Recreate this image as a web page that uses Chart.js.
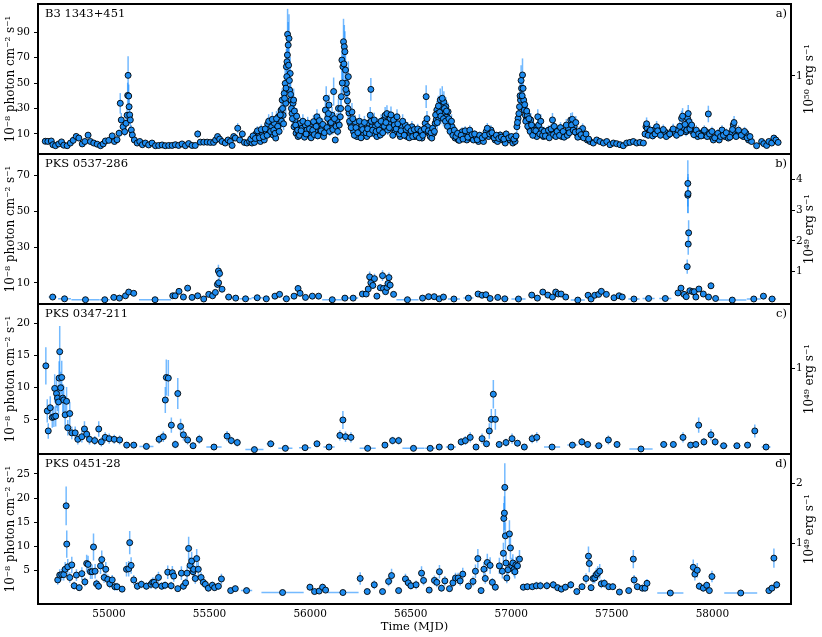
<!DOCTYPE html>
<html>
<head>
<meta charset="utf-8">
<script src="https://cdn.jsdelivr.net/npm/chart.js@4.4.0/dist/chart.umd.min.js"></script>
<style>
  body { margin: 0; background: #fff; }
  #wrap { position: relative; width: 822px; height: 637px; }
  #wrap canvas { position: absolute; left: 0; }
</style>
</head>
<body>
<div id="wrap">
  <canvas id="pa" width="822" height="158" style="top:0px"></canvas>
  <canvas id="pb" width="822" height="158" style="top:150px"></canvas>
  <canvas id="pc" width="822" height="158" style="top:300px"></canvas>
  <canvas id="pd" width="822" height="187" style="top:450px"></canvas>
</div>
<script>
// time axis (MJD)
const xTicks = [55000, 55500, 56000, 56500, 57000, 57500, 58000];

// B3 1343+451: [MJD, flux, error]
const panelA = [
  [54683,4.3,1.5],[54696,4.2,1.5],[54713,4.5,1.5],[54721,1.6,1.2],[54734,0.8,1.0],[54750,2.2,1.3],
  [54764,3.8,1.5],[54775,1.2,1.0],[54792,0.8,1.0],[54808,2.9,1.4],[54822,5.0,1.8],[54837,8.1,2.2],
  [54850,6.8,2.0],[54867,2.2,1.3],[54880,4.1,1.5],[54896,9.1,2.5],[54908,4.1,1.5],[54924,2.9,1.4],
  [54941,2.0,1.2],[54958,0.8,1.0],[54971,2.2,1.3],[54982,4.5,1.6],[54999,5.0,1.8],[55016,8.5,2.4],
  [55027,4.1,1.6],[55040,5.5,1.8],[55050,10.6,3.0],[55056,34.1,8.0],[55061,21.0,5.5],[55070,15.7,4.5],
  [55078,11.8,3.5],[55085,18.4,5.0],[55090,24.7,6.5],[55093,40.3,10],[55095,56.0,15],[55098,39.8,9],
  [55100,31.4,8],[55103,25.0,6.5],[55106,21.0,5.5],[55111,13.1,3.8],[55116,9.2,2.8],[55126,5.3,2.0],
  [55140,2.9,1.4],[55153,4.1,1.5],[55166,1.6,1.2],[55181,2.9,1.4],[55197,1.4,1.2],[55214,2.9,1.4],
  [55231,0.8,1.0],[55247,1.0,1.0],[55264,1.4,1.1],[55280,0.8,1.0],[55297,1.0,1.0],[55314,1.0,1.0],
  [55330,1.6,1.1],[55346,1.0,1.0],[55363,2.2,1.3],[55380,0.8,1.0],[55396,2.5,1.3],[55413,1.0,1.0],
  [55429,1.0,1.0],[55441,10.0,3.0],[55454,3.6,1.5],[55471,3.6,1.5],[55488,3.6,1.5],[55504,3.4,1.5],
  [55520,3.4,1.5],[55530,5.3,1.8],[55540,8.0,2.3],[55550,6.0,2.0],[55562,4.1,1.6],[55578,2.9,1.4],
  [55592,5.3,1.8],[55603,4.1,1.6],[55612,1.0,1.0],[55620,8.0,2.4],[55628,6.8,2.2],[55640,14.5,4.0],
  [55650,5.3,1.8],[55663,10.0,3.0],[55673,3.4,1.5],[55686,2.9,1.4],[55699,4.1,1.6],[55711,2.9,1.4],
  [55723,3.4,1.5],[55733,10.6,3.2],[55743,8.0,2.6],[55753,4.1,1.6],[55762,9.2,3.0],[55772,5.3,2.0],
  [55782,11.8,3.5],[55789,17.8,5.0],[55799,10.6,3.2],[55809,15.7,4.5],[55816,9.2,3.0],[55822,18.4,5.0],
  [55829,6.8,2.4],[55836,14.5,4.2],[55842,23.5,6.0],[55849,18.4,5.0],[55856,28.8,7.0],[55861,36.6,9],
  [55866,24.7,6.5],[55871,41.8,10],[55876,49.7,12],[55879,34.1,8.5],[55882,62.8,14],[55885,66.7,15],
  [55888,88.2,20],[55891,79.8,18],[55895,85.0,19],[55898,44.5,11],[55901,57.5,13],[55905,36.6,9],
  [55910,26.1,7],[55915,34.1,8.5],[55918,36.6,9],[55920,15.7,4.5],[55925,21.0,5.5],[55930,10.6,3.2],
  [55935,15.7,4.5],[55940,8.0,2.6],[55943,11.8,3.5],[55951,18.4,5.0],[55960,14.5,4.2],[55968,10.6,3.2],
  [55976,17.1,4.8],[55984,13.1,3.8],[55993,9.2,3.0],[56001,15.7,4.5],[56009,11.8,3.5],[56017,19.7,5.2],
  [56026,11.8,3.5],[56034,23.5,6.0],[56042,17.1,4.8],[56051,10.6,3.2],[56059,14.5,4.2],[56067,8.0,2.6],
  [56076,28.8,7.5],[56080,38.0,9.5],[56087,22.2,6.0],[56094,32.7,8.0],[56100,18.4,5.0],[56109,24.7,6.5],
  [56117,43.3,11],[56125,5.3,2.0],[56133,21.0,5.5],[56141,30.1,7.5],[56150,23.5,6.0],[56155,39.3,10],
  [56158,68.0,15],[56163,62.8,14],[56166,82.4,18],[56170,78.5,17],[56173,74.6,16],[56176,60.2,13],
  [56180,49.8,12],[56183,42.4,10],[56186,36.0,9],[56190,55.0,12],[56193,26.5,7],[56200,18.4,5],
  [56208,27.3,7],[56216,11.8,3.5],[56224,19.7,5.2],[56233,8.0,2.6],[56241,14.5,4.2],[56249,10.6,3.2],
  [56257,17.1,4.8],[56265,9.2,3.0],[56274,13.1,3.8],[56282,8.0,2.6],[56290,18.4,5.0],[56299,24.7,6.5],
  [56302,45.0,9],[56307,15.7,4.5],[56315,10.6,3.2],[56324,15.7,4.5],[56332,8.0,2.6],[56340,11.8,3.5],
  [56349,9.2,3.0],[56357,15.7,4.5],[56365,21.0,5.5],[56373,24.7,6.5],[56382,26.0,6.5],[56390,18.4,5.0],
  [56398,22.2,6.0],[56407,14.5,4.2],[56415,21.0,5.5],[56423,11.8,3.5],[56432,23.5,6.0],[56440,13.1,3.8],
  [56448,8.0,2.6],[56456,15.7,4.5],[56464,10.6,3.2],[56473,17.1,4.8],[56481,8.0,2.6],[56489,11.8,3.5],
  [56498,9.2,3.0],[56506,15.7,4.5],[56514,10.6,3.2],[56522,8.0,2.6],[56531,11.8,3.5],[56539,8.0,2.6],
  [56547,10.6,3.2],[56556,6.8,2.4],[56564,11.8,3.5],[56572,18.4,5.0],[56577,39.3,9],[56584,15.7,4.5],
  [56591,10.6,3.2],[56597,8.0,2.6],[56605,6.8,2.4],[56614,10.6,3.2],[56622,18.4,5.0],[56627,21.0,5.5],
  [56630,28.8,7.0],[56635,26.2,6.5],[56640,22.2,6.0],[56647,36.7,9],[56653,28.8,7.0],[56660,32.7,8.0],
  [56665,35.0,8.5],[56670,26.2,6.5],[56675,31.4,7.5],[56680,23.5,6.0],[56686,27.5,7.0],[56693,18.4,5.0],
  [56700,13.1,3.8],[56706,15.7,4.5],[56713,11.8,3.5],[56721,6.8,2.4],[56729,9.2,3.0],[56737,5.3,2.0],
  [56746,6.8,2.4],[56756,11.8,3.5],[56766,8.0,2.6],[56779,5.3,2.0],[56789,10.6,3.2],[56799,6.8,2.4],
  [56812,5.3,2.0],[56826,7.5,2.5],[56837,4.1,1.6],[56849,6.8,2.4],[56862,4.1,1.6],[56875,11.8,3.5],
  [56887,8.0,2.6],[56899,13.1,3.8],[56909,8.0,2.6],[56920,5.3,2.0],[56932,4.1,1.6],[56945,9.2,3.0],
  [56957,5.3,2.0],[56970,2.9,1.4],[56981,8.0,2.6],[56994,5.3,2.0],[57008,2.9,1.4],[57019,4.1,1.6],
  [57028,15.7,4.5],[57034,22.2,6.0],[57041,31.4,7.5],[57046,36.6,9],[57051,45.8,11],[57056,56.3,13],
  [57059,45.8,11],[57062,36.6,9],[57065,28.8,7.0],[57070,24.7,6.5],[57075,21.0,5.5],[57080,24.7,6.5],
  [57085,18.4,5.0],[57090,14.5,4.2],[57097,21.0,5.5],[57104,11.8,3.5],[57110,15.7,4.5],[57118,10.6,3.2],
  [57127,8.0,2.6],[57132,23.5,6.0],[57152,13.1,3.8],[57160,8.0,2.6],[57177,11.8,3.5],[57193,9.2,3.0],
  [57205,21.0,5.5],[57218,10.6,3.2],[57234,13.1,3.8],[57251,8.0,2.6],[57268,10.6,3.2],[57284,14.5,4.2],
  [57296,21.0,5.5],[57304,21.5,5.5],[57313,15.7,4.5],[57326,10.6,3.2],[57342,8.0,2.6],[57355,14.3,4.0],
  [57367,9.2,3.0],[57378,5.3,2.0],[57392,4.1,1.6],[57408,2.9,1.4],[57425,5.3,2.0],[57441,4.1,1.6],
  [57458,2.9,1.4],[57475,4.1,1.6],[57491,1.6,1.2],[57508,2.9,1.4],[57524,2.4,1.3],[57541,1.6,1.2],
  [57557,0.8,1.0],[57574,2.9,1.4],[57590,3.4,1.5],[57607,4.1,1.6],[57624,2.9,1.4],[57640,3.4,1.5],
  [57657,2.9,1.4],[57670,15.7,4.5],[57676,14.5,4.2],[57686,11.8,3.5],[57698,10.6,3.2],[57709,13.1,3.8],
  [57723,15.7,4.5],[57736,11.8,3.5],[57749,10.6,3.2],[57764,11.8,3.5],[57780,9.2,3.0],[57797,11.8,3.5],
  [57814,10.6,3.2],[57830,13.1,3.8],[57847,22.3,6.0],[57859,14.5,4.2],[57869,11.8,3.5],[57877,22.3,6.0],
  [57884,19.7,5.2],[57892,15.7,4.5],[57902,11.8,3.5],[57914,10.6,3.2],[57927,8.0,2.6],[57938,10.6,3.2],
  [57955,9.2,3.0],[57968,11.8,3.5],[57980,25.7,6.5],[57992,8.0,2.6],[58005,5.3,2.0],[58021,8.0,2.6],
  [58034,5.3,2.0],[58048,13.1,3.8],[58062,8.0,2.6],[58079,6.8,2.4],[58096,10.6,3.2],[58104,17.1,4.8],
  [58112,11.8,3.5],[58124,9.2,3.0],[58137,10.6,3.2],[58154,8.0,2.6],[58167,10.6,3.2],[58180,5.3,2.0],
  [58195,4.1,1.6],[58220,0.8,1.0],[58245,4.1,1.6],[58256,2.4,1.3],[58270,1.0,1.0],[58281,4.1,1.6],
  [58295,2.9,1.4],[58306,6.8,2.4],[58316,5.3,2.0],[58327,3.4,1.5],
  // extra points read from the dense active stretches
  [55705,6.0,2.0],[55716,8.5,2.6],[55728,6.5,2.2],[55738,12.5,3.6],[55748,7.0,2.3],[55757,13.5,3.9],
  [55767,8.0,2.6],[55777,14.0,4.0],[55786,9.0,2.8],[55794,20.0,5.5],[55804,12.0,3.6],[55812,21.5,5.8],
  [55819,13.0,3.8],[55826,10.5,3.2],[55833,22.0,6.0],[55839,16.0,4.6],[55846,12.0,3.6],[55852,25.0,6.5],
  [55858,20.0,5.5],[55863,30.0,7.5],[55868,18.0,5.0],[55873,38.0,9.5],[55880,46.0,11],[55884,55.0,13],
  [55887,72.0,16],[55893,64.0,15],[55897,52.0,12],[55903,41.0,10],[55907,30.0,7.5],[55912,22.0,6.0],
  [55922,28.0,7.2],[55928,17.0,4.8],[55933,24.0,6.3],[55938,13.0,3.8],[55947,9.0,2.8],[55955,12.5,3.6],
  [55964,20.0,5.5],[55972,7.5,2.4],[55980,10.0,3.0],[55988,18.5,5.0],[55997,14.0,4.0],[56005,7.0,2.3],
  [56013,13.0,3.8],[56021,9.5,3.0],[56030,16.0,4.6],[56038,8.5,2.7],[56046,20.5,5.6],[56055,12.5,3.6],
  [56063,17.5,4.9],[56071,11.0,3.3],[56084,15.0,4.3],[56091,26.0,6.8],[56097,12.0,3.6],[56104,19.0,5.2],
  [56113,13.5,3.9],[56121,22.0,6.0],[56129,16.0,4.6],[56137,12.0,3.6],[56145,17.0,4.8],[56152,30.0,7.5],
  [56160,50.0,12],[56168,65.0,15],[56178,45.0,11],[56188,30.0,7.5],[56196,20.0,5.5],[56204,15.0,4.3],
  [56212,22.0,6.0],[56220,9.0,2.8],[56228,15.0,4.3],[56237,11.0,3.3],[56245,20.0,5.5],[56253,7.0,2.3],
  [56261,13.5,3.9],[56270,19.0,5.2],[56278,11.0,3.3],[56286,14.0,4.0],[56295,10.0,3.0],[56304,20.0,5.5],
  [56311,13.0,3.8],[56319,21.0,5.7],[56328,12.0,3.6],[56336,17.5,4.9],[56344,13.0,3.8],[56353,20.0,5.5],
  [56361,11.0,3.3],[56369,16.0,4.6],[56377,19.0,5.2],[56386,13.0,3.8],[56394,15.0,4.3],[56402,25.0,6.5],
  [56411,9.0,2.8],[56419,17.0,4.8],[56428,14.0,4.0],[56436,18.0,5.0],[56444,10.0,3.0],[56452,12.5,3.6],
  [56460,20.0,5.5],[56468,9.0,2.8],[56477,13.5,3.9],[56485,15.0,4.3],[56493,7.0,2.3],[56502,12.5,3.6],
  [56510,8.0,2.6],[56518,13.5,3.9],[56527,9.0,2.8],[56535,14.0,4.0],[56543,7.0,2.3],[56551,12.5,3.6],
  [56560,9.0,2.8],[56568,14.0,4.0],[56581,22.0,6.0],[56588,12.5,3.6],[56601,11.0,3.3],[56609,14.5,4.1],
  [56618,12.0,3.6],[56624,25.0,6.5],[56632,19.0,5.2],[56638,32.0,8.0],[56644,27.0,7.0],[56650,24.0,6.3],
  [56657,38.0,9.5],[56663,22.0,6.0],[56668,30.0,7.5],[56673,20.0,5.5],[56678,28.0,7.2],[56683,16.0,4.6],
  [56690,22.0,6.0],[56696,12.0,3.6],[56703,20.0,5.5],[56710,9.0,2.8],[56717,13.0,3.8],[56725,8.0,2.6],
  [56733,10.5,3.2],[56742,5.0,1.9],[56751,9.0,2.8],[56760,6.0,2.0],[56771,12.5,3.6],[56784,7.5,2.4],
  [56794,13.0,3.8],[56805,9.5,3.0],[56818,10.0,3.0],[56831,5.5,2.0],[56843,9.0,2.8],[56856,7.0,2.3],
  [56869,9.0,2.8],[56881,14.5,4.1],[56893,10.0,3.0],[56904,11.0,3.3],[56915,7.0,2.3],[56926,9.0,2.8],
  [56938,6.5,2.2],[56951,7.5,2.4],[56963,6.0,2.0],[56975,10.0,3.0],[56988,7.0,2.3],[57001,8.0,2.6],
  [57013,6.0,2.0],[57024,8.5,2.7],[57031,19.0,5.2],[57038,26.0,6.8],[57044,40.0,10],[57049,52.0,12],
  [57054,40.0,10],[57067,33.0,8.2],[57072,20.0,5.5],[57077,28.0,7.2],[57082,16.0,4.6],[57088,22.0,6.0],
  [57094,12.0,3.6],[57101,17.0,4.8],[57107,9.0,2.8],[57114,13.0,3.8],[57122,12.5,3.6],[57136,17.0,4.8],
  [57142,10.0,3.0],[57147,20.0,5.5],[57156,9.0,2.8],[57164,12.0,3.6],[57170,8.5,2.7],[57185,13.0,3.8],
  [57189,7.0,2.3],[57198,14.0,4.0],[57210,9.5,3.0],[57214,16.0,4.6],[57222,8.0,2.6],[57228,12.0,3.6],
  [57240,9.0,2.8],[57245,15.0,4.3],[57258,12.0,3.6],[57263,7.5,2.4],[57274,17.0,4.8],[57279,9.0,2.8],
  [57289,11.0,3.3],[57300,17.0,4.8],[57308,13.0,3.8],[57318,11.5,3.4],[57321,19.0,5.2],[57331,7.5,2.4],
  [57337,12.0,3.6],[57347,9.5,3.0],[57360,7.0,2.3],[57372,10.0,3.0],[57385,6.0,2.0],
  [57665,10.0,3.0],[57673,18.0,5.0],[57681,9.0,2.8],[57692,13.0,3.8],[57703,8.5,2.7],[57715,10.0,3.0],
  [57728,12.5,3.6],[57742,9.0,2.8],[57756,13.5,3.9],[57771,8.0,2.6],[57788,10.0,3.0],[57805,14.0,4.0],
  [57822,9.0,2.8],[57838,16.0,4.6],[57843,11.0,3.3],[57852,24.0,6.3],[57864,17.5,4.9],[57873,13.0,3.8],
  [57880,26.0,6.8],[57888,14.0,4.0],[57897,17.0,4.8],[57908,9.5,3.0],[57920,13.0,3.8],[57932,10.0,3.0],
  [57944,8.5,2.7],[57960,13.0,3.8],[57974,8.0,2.6],[57986,10.0,3.0],[57998,12.0,3.6],[58012,7.0,2.3],
  [58027,10.5,3.2],[58041,8.0,2.6],[58055,9.0,2.8],[58069,11.0,3.3],[58087,7.5,2.4],[58100,13.5,3.9],
  [58108,19.0,5.2],[58118,8.0,2.6],[58130,13.0,3.8],[58144,9.0,2.8],[58160,12.0,3.6],[58173,7.0,2.3],
  [58187,8.0,2.6]
];

// PKS 0537-286: [MJD, flux, error, bin half-width in days]
const panelB = [
  [54720,2.0,0.6,20],[54779,1.0,0.4,32],[54883,0.5,0.3,70],[54979,0.5,0.3,25],[55024,1.8,0.6,18],
  [55052,1.4,0.5,12],[55082,2.7,0.8,14],[55098,4.8,1.2,10],[55123,4.1,1.0,15],[55229,0.5,0.3,80],
  [55317,2.7,0.8,10],[55329,2.7,0.8,8],[55348,5.2,1.2,10],[55370,2.0,0.6,12],[55391,7.0,1.5,10],
  [55413,1.8,0.6,12],[55441,2.7,0.8,14],[55471,0.9,0.4,14],[55496,3.5,0.9,12],[55515,2.7,0.8,8],
  [55529,4.6,1.2,6],[55539,9.1,2.0,4],[55544,16.6,3.5,3],[55545,10.0,2.5,2],[55550,15.2,3.0,3],
  [55562,6.4,1.5,8],[55595,2.0,0.6,18],[55630,1.4,0.5,16],[55679,1.0,0.4,30],[55737,1.6,0.5,28],
  [55782,1.0,0.4,18],[55825,2.5,0.7,14],[55848,3.5,0.9,10],[55882,1.0,0.4,20],[55920,2.5,0.7,14],
  [55940,6.8,2.0,6],[55950,4.1,1.2,6],[55977,1.8,0.6,14],[56011,2.5,0.7,14],[56042,2.5,0.7,14],
  [56110,0.5,0.3,50],[56173,1.4,0.5,18],[56214,1.4,0.5,25],[56260,3.7,1.0,10],[56279,3.7,1.0,6],
  [56289,6.5,1.5,4],[56296,13.3,3.0,3],[56302,10.0,2.5,3],[56312,8.5,2.0,4],[56320,12.3,2.8,3],
  [56332,2.5,0.8,6],[56349,7.2,1.8,6],[56360,14.0,3.0,4],[56365,6.8,1.8,3],[56375,5.0,1.4,4],
  [56382,7.4,1.8,3],[56387,9.6,2.2,3],[56392,12.9,2.8,3],[56398,8.7,2.0,4],[56415,3.5,1.0,10],
  [56484,0.5,0.3,55],[56559,1.4,0.5,16],[56589,2.2,0.6,12],[56617,2.2,0.6,12],[56642,1.0,0.4,10],
  [56663,2.0,0.6,10],[56715,0.9,0.4,30],[56787,1.4,0.5,25],[56835,3.7,1.0,12],[56855,3.0,0.9,8],
  [56874,3.3,0.9,8],[56895,1.2,0.4,10],[56933,1.8,0.6,15],[56968,1.0,0.4,18],[57036,0.9,0.4,35],
  [57102,3.1,0.9,15],[57130,1.4,0.5,12],[57157,4.8,1.2,10],[57182,3.1,0.9,10],[57205,2.0,0.6,8],
  [57221,4.8,1.2,6],[57234,3.7,1.0,6],[57248,3.7,1.0,8],[57271,2.0,0.6,12],[57331,0.3,0.2,35],
  [57382,3.0,0.9,10],[57397,0.9,0.4,6],[57415,3.0,0.9,8],[57435,3.5,1.0,8],[57448,5.2,1.2,8],
  [57473,3.5,1.0,12],[57511,1.6,0.5,14],[57536,2.7,0.8,10],[57552,2.0,0.6,10],[57610,0.9,0.4,28],
  [57683,1.2,0.4,30],[57766,1.2,0.4,30],[57829,4.3,1.1,10],[57844,7.0,1.8,6],[57859,3.5,1.0,6],
  [57870,2.2,0.8,3],[57875,19.0,4.0,1],[57878,59.1,10,1],[57878,65.7,13,1],[57879,60.0,11,1],
  [57880,31.7,6,1],[57882,38.0,7,1],[57888,5.5,1.5,4],[57902,5.0,1.4,6],[57910,5.0,1.4,4],
  [57918,2.0,0.7,4],[57933,6.5,1.6,8],[57955,3.7,1.0,10],[57981,2.0,0.6,10],[57993,8.3,1.8,8],
  [58016,1.2,0.4,12],[58099,0.3,0.2,70],[58206,0.9,0.4,35],[58254,2.5,0.7,14],[58297,0.9,0.4,20]
];

// PKS 0347-211: [MJD, flux, error, bin half-width in days]
const panelC = [
  [54686,13.4,2.9,3],[54693,6.4,1.8,3],[54698,3.3,1.2,3],[54708,6.9,1.8,3],[54718,5.4,1.6,3],
  [54726,5.5,1.6,3],[54730,9.9,2.2,2],[54735,5.6,1.6,2],[54739,9.1,2.2,2],[54744,8.4,2.0,2],
  [54749,7.8,2.0,2],[54752,11.5,2.6,2],[54755,15.6,4.0,2],[54760,10.0,2.5,2],[54765,11.6,2.6,2],
  [54770,8.4,2.2,2],[54775,8.1,2.2,2],[54782,5.8,1.8,3],[54789,7.9,2.2,3],[54795,3.8,1.2,3],
  [54805,6.0,1.8,4],[54815,3.0,1.0,5],[54832,3.0,1.0,5],[54845,2.0,0.8,6],[54865,2.4,0.9,6],
  [54878,3.6,1.2,5],[54889,2.8,0.9,5],[54903,2.0,0.8,6],[54929,1.8,0.7,8],[54949,3.6,1.2,6],
  [54962,1.6,0.7,6],[54981,2.3,0.8,7],[55001,2.1,0.8,8],[55026,2.0,0.7,10],[55053,1.9,0.7,12],
  [55088,1.1,0.5,14],[55123,1.1,0.5,18],[55186,0.9,0.4,35],[55249,2.0,0.7,14],[55270,2.4,0.8,6],
  [55280,8.1,2.0,3],[55285,11.6,2.8,2],[55295,11.5,2.8,3],[55310,4.2,1.2,5],[55330,1.2,0.6,6],
  [55342,9.1,2.4,4],[55356,4.0,1.2,5],[55370,2.7,0.9,6],[55391,1.9,0.7,8],[55418,1.0,0.5,10],
  [55449,2.0,0.7,14],[55522,0.8,0.4,38],[55587,2.5,0.8,14],[55608,1.8,0.6,10],[55638,1.5,0.6,15],
  [55723,0.4,0.3,45],[55804,1.3,0.5,20],[55877,0.6,0.3,35],[55975,0.7,0.3,30],[56034,1.3,0.5,15],
  [56094,0.8,0.4,28],[56148,2.6,0.8,8],[56163,5.0,1.4,5],[56176,2.4,0.8,6],[56203,2.3,0.8,14],
  [56286,0.6,0.3,40],[56372,1.1,0.5,14],[56410,1.8,0.6,10],[56440,1.8,0.6,10],[56514,0.6,0.3,55],
  [56597,0.6,0.3,25],[56642,0.8,0.4,15],[56700,0.8,0.4,25],[56751,1.6,0.6,10],[56772,1.8,0.7,8],
  [56796,2.3,0.8,8],[56825,0.8,0.4,10],[56855,2.1,0.8,8],[56877,1.3,0.5,8],[56891,3.3,1.2,4],
  [56901,5.1,1.6,3],[56911,9.0,2.2,3],[56921,5.1,1.6,4],[56940,1.2,0.5,8],[56974,1.5,0.6,14],
  [57004,2.1,0.8,10],[57031,1.4,0.5,10],[57065,0.8,0.4,15],[57104,2.1,0.7,10],[57127,2.3,0.8,8],
  [57203,0.8,0.4,40],[57304,1.1,0.5,25],[57351,1.6,0.6,12],[57380,1.2,0.5,10],[57435,1.0,0.4,20],
  [57483,1.9,0.7,12],[57526,1.2,0.5,14],[57645,0.5,0.3,58],[57758,1.2,0.5,18],[57806,1.2,0.5,14],
  [57854,2.3,0.8,10],[57892,1.1,0.5,8],[57918,1.2,0.5,6],[57932,4.2,1.2,4],[57958,1.6,0.6,10],
  [57993,2.7,0.9,8],[58014,1.6,0.6,8],[58056,1.0,0.4,20],[58122,1.0,0.4,18],[58175,1.1,0.5,15],
  [58211,3.3,1.0,8],[58267,0.8,0.4,22]
];

// PKS 0451-28: [MJD, flux, error, bin half-width in days]
const panelD = [
  [54745,3.1,1.0,4],[54755,4.1,1.2,4],[54765,4.2,1.2,4],[54775,4.2,1.2,4],[54782,5.3,1.5,3],
  [54787,18.4,4.0,2],[54790,10.5,2.8,2],[54795,5.8,1.6,3],[54805,3.6,1.1,4],[54815,6.2,1.7,4],
  [54827,1.9,0.8,5],[54838,4.1,1.2,5],[54852,1.5,0.7,6],[54865,4.4,1.3,6],[54880,2.7,0.9,6],
  [54889,6.5,1.8,4],[54896,6.3,1.8,3],[54908,4.8,1.5,3],[54916,4.8,1.5,3],[54923,9.9,2.8,3],
  [54931,4.9,1.5,3],[54938,2.3,0.9,3],[54948,1.8,0.8,4],[54958,6.0,1.7,4],[54964,7.3,1.9,3],
  [54976,3.6,1.1,4],[54984,5.3,1.5,4],[54994,3.2,1.0,4],[55004,2.3,0.9,5],[55016,3.1,1.0,5],
  [55029,1.7,0.8,5],[55040,1.7,0.8,6],[55065,1.2,0.6,10],[55087,5.3,1.5,4],[55098,5.4,1.6,3],
  [55103,10.8,2.4,2],[55110,6.1,1.7,3],[55123,3.1,1.0,6],[55141,1.8,0.8,8],[55161,2.2,0.8,8],
  [55186,1.8,0.8,10],[55209,2.2,0.9,6],[55217,2.6,1.0,4],[55224,2.6,1.0,4],[55232,2.0,0.9,4],
  [55246,3.6,1.2,6],[55262,1.8,0.8,6],[55279,2.0,0.8,6],[55292,4.7,1.4,6],[55309,1.9,0.8,5],
  [55315,4.6,1.4,3],[55322,3.9,1.2,4],[55342,1.3,0.6,8],[55360,4.5,1.4,6],[55370,1.8,0.8,4],
  [55381,2.5,0.9,4],[55388,4.5,1.4,3],[55396,9.6,2.4,3],[55403,6.1,1.7,3],[55411,7.0,1.9,3],
  [55418,4.8,1.4,3],[55421,5.3,1.5,3],[55429,3.4,1.1,3],[55436,7.5,2.0,3],[55444,5.3,1.5,4],
  [55458,3.6,1.1,6],[55469,2.6,0.9,5],[55479,2.2,0.9,5],[55494,1.4,0.7,7],[55514,2.0,0.8,7],
  [55525,1.5,0.7,5],[55544,1.8,0.8,8],[55559,3.3,1.1,6],[55605,0.9,0.4,15],[55628,1.3,0.6,10],
  [55684,0.9,0.4,28],[55863,0.5,0.3,105],[55999,1.6,0.7,10],[56022,0.7,0.4,10],[56045,0.8,0.4,10],
  [56062,1.6,0.7,8],[56077,1.0,0.5,8],[56163,0.5,0.3,78],[56249,3.4,1.3,8],[56284,0.7,0.4,15],
  [56319,2.1,0.9,10],[56360,0.7,0.4,15],[56390,2.8,1.0,6],[56405,4.0,1.4,6],[56440,0.9,0.4,15],
  [56474,3.3,1.1,6],[56488,2.5,0.9,6],[56501,1.9,0.8,6],[56527,2.1,0.9,8],[56554,4.5,1.4,6],
  [56564,3.0,1.0,5],[56592,1.0,0.5,10],[56618,3.0,1.0,6],[56630,2.6,1.0,5],[56643,4.8,1.4,5],
  [56653,1.4,0.7,5],[56670,2.9,1.0,6],[56693,1.3,0.6,8],[56710,2.5,0.9,6],[56723,3.5,1.1,5],
  [56736,3.5,1.1,5],[56746,2.9,1.0,5],[56759,4.3,1.3,5],[56787,1.8,0.8,8],[56810,2.8,1.0,6],
  [56822,4.9,1.4,5],[56834,7.5,2.0,5],[56850,0.9,0.5,6],[56864,5.3,1.5,4],[56871,3.4,1.1,4],
  [56881,6.7,1.8,4],[56895,6.1,1.7,4],[56906,2.6,0.9,5],[56921,1.6,0.7,6],[56941,6.0,1.7,5],
  [56956,4.9,1.5,3],[56961,8.6,2.2,2],[56963,15.8,3.2,1],[56966,16.9,3.5,1],[56968,22.2,5.0,1],
  [56971,12.2,2.8,1],[56974,6.6,1.8,2],[56978,3.5,1.1,2],[56984,5.2,1.5,3],[56991,12.6,2.8,3],
  [56996,9.7,2.4,2],[57003,6.0,1.7,2],[57008,6.6,1.8,2],[57014,5.3,1.5,2],[57018,4.8,1.4,2],
  [57023,6.2,1.7,2],[57031,6.0,1.7,3],[57041,7.4,1.9,4],[57060,1.6,0.7,8],[57080,1.7,0.7,8],
  [57105,1.7,0.7,8],[57125,1.9,0.8,8],[57145,1.9,0.8,8],[57177,1.9,0.8,10],[57209,2.1,0.8,8],
  [57231,1.5,0.7,6],[57249,1.2,0.6,6],[57269,1.6,0.7,8],[57296,2.1,0.8,8],[57326,0.7,0.4,12],
  [57352,1.7,0.7,8],[57372,3.4,1.1,6],[57384,8.0,2.0,3],[57388,6.5,1.8,3],[57397,1.5,0.7,4],
  [57407,3.4,1.1,4],[57415,3.5,1.1,4],[57423,4.2,1.3,4],[57430,4.5,1.4,4],[57440,4.9,1.5,4],
  [57448,2.3,0.9,4],[57463,2.4,0.9,6],[57485,1.7,0.7,6],[57505,1.7,0.7,8],[57538,0.6,0.4,12],
  [57584,0.9,0.5,12],[57607,7.4,1.9,4],[57611,3.1,1.0,4],[57627,1.7,0.7,6],[57652,1.4,0.7,6],
  [57665,1.4,0.7,5],[57675,2.4,0.9,5],[57791,0.4,0.3,65],[57905,5.7,1.6,4],[57913,4.3,1.3,4],
  [57925,5.1,1.5,4],[57935,1.8,0.8,5],[57955,1.4,0.7,6],[57972,2.0,0.8,6],[57985,0.9,0.5,6],
  [57998,3.8,1.2,6],[58141,0.4,0.3,82],[58281,0.9,0.5,8],[58296,1.4,0.7,6],[58306,7.6,2.0,4],
  [58320,2.1,0.8,6]
];

// tick labels per panel (left flux axis, right luminosity axis)
const yTicksA = [10, 30, 50, 70, 90];
const yTicksB = [10, 30, 50, 70];
const yTicksC = [5, 10, 15, 20];
const yTicksD = [5, 10, 15, 20, 25];
const rTicksA = [1];
const rTicksB = [1, 2, 3, 4];
const rTicksC = [1];
const rTicksD = [1, 2];

const FONT = '"DejaVu Serif", "Liberation Serif", serif';
const MARKER = '#1E8CF0';
const ERRCOL = 'rgba(30,144,255,0.62)';

// error bars under the markers
const errorBars = {
  id: 'errorBars',
  beforeDatasetsDraw(chart) {
    const { ctx, chartArea: a, scales: { x, y } } = chart;
    const rows = chart.data.datasets[0].rows;
    ctx.save();
    ctx.beginPath();
    ctx.rect(a.left, a.top, a.width, a.height);
    ctx.clip();
    ctx.strokeStyle = ERRCOL;
    ctx.lineWidth = 1.5;
    rows.forEach(r => {
      const px = x.getPixelForValue(r[0]);
      const py = y.getPixelForValue(r[1]);
      ctx.beginPath();
      ctx.moveTo(px, y.getPixelForValue(r[1] - r[2]));
      ctx.lineTo(px, y.getPixelForValue(r[1] + r[2]));
      if (r.length > 3) {
        ctx.moveTo(x.getPixelForValue(r[0] - r[3]), py);
        ctx.lineTo(x.getPixelForValue(r[0] + r[3]), py);
      }
      ctx.stroke();
    });
    ctx.restore();
  }
};

// frame, source name, panel letter and right-hand axis title
const frame = {
  id: 'frame',
  afterDraw(chart, args, o) {
    const { ctx, chartArea: a } = chart;
    ctx.save();
    ctx.strokeStyle = '#000';
    ctx.lineWidth = 2;
    ctx.strokeRect(a.left, a.top, a.width, a.height);
    ctx.fillStyle = '#000';
    ctx.font = '11.5px ' + FONT;
    ctx.textBaseline = 'middle';
    ctx.textAlign = 'left';
    ctx.fillText(o.name, a.left + 7, a.top + 10);
    ctx.textAlign = 'right';
    ctx.fillText(o.tag, a.right - 4, a.top + 10);
    ctx.font = '12px ' + FONT;
    ctx.translate(a.right + 19, (a.top + a.bottom) / 2);
    ctx.rotate(-Math.PI / 2);
    ctx.textAlign = 'center';
    ctx.fillText(o.rTitle, 0, 0);
    ctx.restore();
  }
};

function noPad(s) {
  s.paddingTop = 0;
  s.paddingBottom = 0;
  s.paddingLeft = 0;
  s.paddingRight = 0;
}

function makePanel(id, rows, p) {
  const tickFont = { family: FONT, size: 10.5 };
  new Chart(document.getElementById(id), {
    type: 'scatter',
    data: {
      datasets: [{
        rows: rows,
        data: rows.map(r => ({ x: r[0], y: r[1] })),
        pointRadius: 3,
        pointHoverRadius: 3,
        pointBackgroundColor: MARKER,
        pointBorderColor: '#000',
        pointBorderWidth: 0.9
      }]
    },
    options: {
      responsive: false,
      animation: false,
      events: [],
      layout: { padding: { top: 4, bottom: p.last ? 0 : 4, left: 0, right: 0 } },
      plugins: { legend: { display: false }, tooltip: { enabled: false }, frame: p },
      scales: {
        x: {
          type: 'linear',
          min: 54647,
          max: 58391,
          display: p.last,
          afterBuildTicks: s => { s.ticks = xTicks.map(v => ({ value: v })); },
          afterFit: s => { s.height = p.last ? 33 : 0; noPad(s); },
          grid: { display: false, drawTicks: false },
          border: { display: false },
          ticks: { font: tickFont, color: '#000', padding: 4, maxRotation: 0, callback: v => String(v) },
          title: { display: true, text: 'Time (MJD)', font: { family: FONT, size: 11.5 }, color: '#000', padding: { top: 0, bottom: 3 } }
        },
        y: {
          type: 'linear',
          position: 'left',
          min: p.yMin,
          max: p.yMax,
          afterBuildTicks: s => { s.ticks = p.yTicks.map(v => ({ value: v })); },
          afterFit: s => { s.width = 38; noPad(s); },
          grid: { drawOnChartArea: false, drawTicks: true, tickLength: 4, color: '#000' },
          border: { display: false },
          ticks: { font: tickFont, color: '#000', padding: 4, callback: v => String(v) },
          title: { display: true, text: '10⁻⁸ photon cm⁻² s⁻¹', font: { family: FONT, size: 12 }, color: '#000', padding: { top: 4, bottom: 0 } }
        },
        y2: {
          type: 'linear',
          position: 'right',
          min: p.rMin,
          max: p.rMax,
          afterBuildTicks: s => { s.ticks = p.rTicks.map(v => ({ value: v })); },
          afterFit: s => { s.width = 31; noPad(s); },
          grid: { drawOnChartArea: false, drawTicks: true, tickLength: 4, color: '#000' },
          border: { display: false },
          ticks: { font: tickFont, color: '#000', padding: 1, callback: v => String(v) }
        }
      }
    },
    plugins: [errorBars, frame]
  });
}

makePanel('pa', panelA, { name: 'B3 1343+451', tag: 'a)', yMin: -5.7, yMax: 112, yTicks: yTicksA, rMin: 0, rMax: 1.92, rTicks: rTicksA, rTitle: '10⁵⁰ erg s⁻¹', last: false });
makePanel('pb', panelB, { name: 'PKS 0537-286', tag: 'b)', yMin: -1.9, yMax: 82.2, yTicks: yTicksB, rMin: -0.05, rMax: 4.82, rTicks: rTicksB, rTitle: '10⁴⁹ erg s⁻¹', last: false });
makePanel('pc', panelC, { name: 'PKS 0347-211', tag: 'c)', yMin: -0.28, yMax: 23.0, yTicks: yTicksC, rMin: 0, rMax: 1.75, rTicks: rTicksC, rTitle: '10⁴⁹ erg s⁻¹', last: false });
makePanel('pd', panelD, { name: 'PKS 0451-28', tag: 'd)', yMin: -1.87, yMax: 29.1, yTicks: yTicksD, rMin: 0, rMax: 2.48, rTicks: rTicksD, rTitle: '10⁴⁹ erg s⁻¹', last: true });
</script>
</body>
</html>
